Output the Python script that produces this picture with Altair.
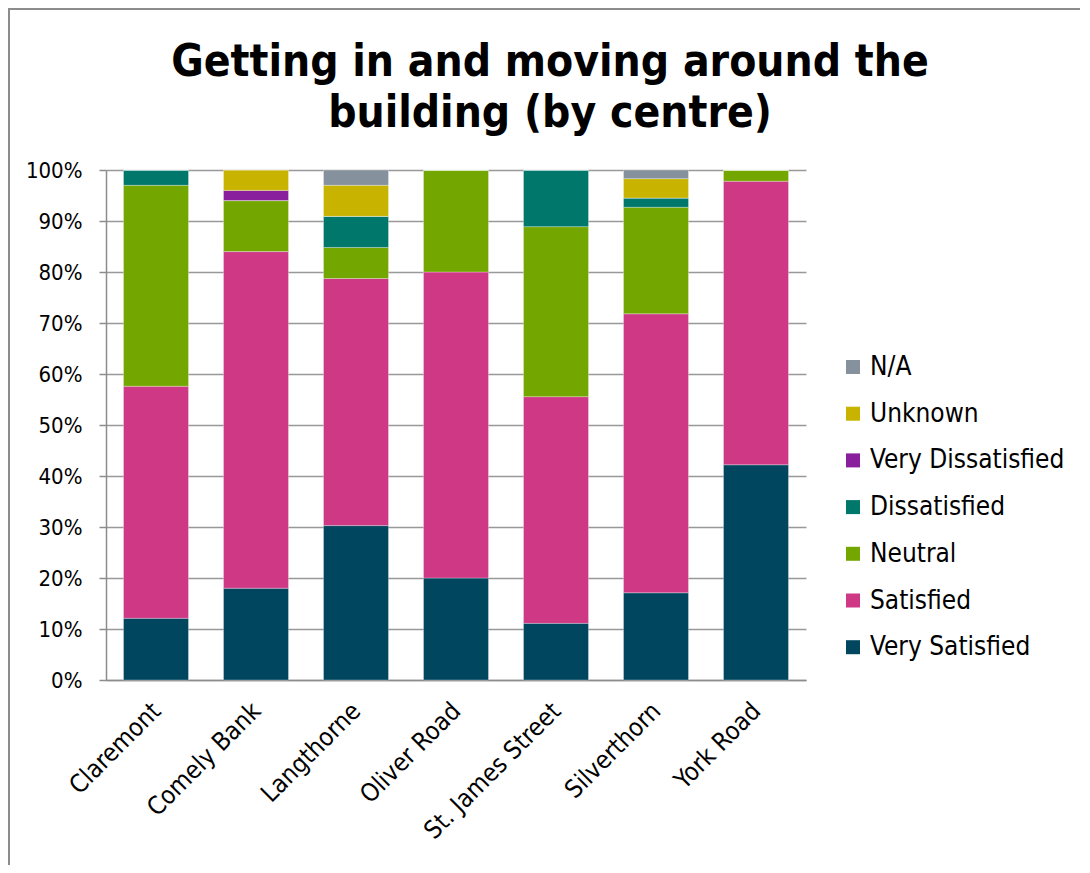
import altair as alt
import pandas as pd

centres = ["Claremont", "Comely Bank", "Langthorne", "Oliver Road",
           "St. James Street", "Silverthorn", "York Road"]
# Stack order: bottom -> top
categories = ["Very Satisfied", "Satisfied", "Neutral", "Dissatisfied",
              "Very Dissatisfied", "Unknown", "N/A"]
colors = ["#00465F", "#CE3885", "#74A600", "#00776B", "#8A1F9E", "#C8B400", "#85929E"]

very_satisfied    = [12.1, 18.0, 30.3, 20.0, 11.1, 17.1, 42.2]
satisfied         = [45.5, 66.0, 48.5, 60.0, 44.4, 54.7, 55.6]
neutral           = [39.4, 10.0, 6.1, 20.0, 33.3, 20.9, 2.2]
dissatisfied      = [3.0, 0.0, 6.1, 0.0, 11.1, 1.8, 0.0]
very_dissatisfied = [0.0, 2.0, 0.0, 0.0, 0.0, 0.0, 0.0]
unknown           = [0.0, 4.0, 6.1, 0.0, 0.0, 3.8, 0.0]
not_applicable    = [0.0, 0.0, 3.0, 0.0, 0.0, 1.7, 0.0]

title_lines = ["Getting in and moving around the", "building (by centre)"]

series = [very_satisfied, satisfied, neutral, dissatisfied,
          very_dissatisfied, unknown, not_applicable]

rows = []
for ci, (cat, vals) in enumerate(zip(categories, series)):
    for centre, v in zip(centres, vals):
        rows.append({"centre": centre, "category": cat, "value": v, "order": ci})
df = pd.DataFrame(rows)

FONT = "DejaVu Sans Condensed"

bars = alt.Chart(df).mark_bar(stroke="white", strokeWidth=0.3).encode(
    x=alt.X("centre:N", sort=centres, title=None,
            scale=alt.Scale(paddingInner=0.35, paddingOuter=0.175),
            axis=alt.Axis(labelAngle=-45, labelFontSize=25, labelColor="#000",
                          labelFont=FONT, ticks=False, domainColor="#8c8c8c",
                          domainWidth=1.5, labelPadding=18, labelOffset=-8,
                          labelLimit=400)),
    y=alt.Y("value:Q", stack="normalize", title=None,
            scale=alt.Scale(domain=[0, 1]),
            axis=alt.Axis(format=".0%", values=[i / 10 for i in range(11)],
                          labelFontSize=22, labelColor="#000", labelFont=FONT,
                          tickSize=7, tickColor="#8c8c8c", tickWidth=1.5,
                          domainColor="#8c8c8c", domainWidth=1.5,
                          gridColor="#999999", gridWidth=1.5, labelPadding=17)),
    color=alt.Color("category:N",
                    scale=alt.Scale(domain=categories[::-1], range=colors[::-1]),
                    legend=alt.Legend(title=None, orient="none", legendX=734, legendY=184,
                                      symbolType="square", symbolSize=196,
                                      symbolStrokeWidth=0, labelFontSize=26,
                                      labelFont=FONT, labelColor="#000", labelLimit=300,
                                      rowPadding=20.7, labelOffset=4)),
    order=alt.Order("order:Q", sort="ascending"),
)

title_df = pd.DataFrame({"line": title_lines})
title_style = dict(font=FONT, fontSize=44, fontWeight="bold", color="#000",
                   align="center", baseline="alphabetic")
title1 = alt.Chart(title_df.iloc[[0]]).mark_text(**title_style).encode(
    text="line:N", x=alt.value(444), y=alt.value(-94))
title2 = alt.Chart(title_df.iloc[[1]]).mark_text(**title_style).encode(
    text="line:N", x=alt.value(444), y=alt.value(-43))

frame_df = pd.DataFrame({"k": [0]})
frame_left = alt.Chart(frame_df).mark_rule(color="#8c8c8c", strokeWidth=2).encode(
    x=alt.value(-97), y=alt.value(-161), y2=alt.value(700))
frame_top = alt.Chart(frame_df).mark_rule(color="#8c8c8c", strokeWidth=2).encode(
    x=alt.value(-98), x2=alt.value(990), y=alt.value(-161))

chart = alt.layer(bars, title1, title2, frame_left, frame_top).properties(
    width=700, height=510,
    padding={"left": 98, "top": 162, "right": 274, "bottom": 185},
    autosize=alt.AutoSizeParams(type="none"),
).configure_view(stroke=None)

chart.save("out.html", embed_options={"renderer": "svg", "actions": False})
